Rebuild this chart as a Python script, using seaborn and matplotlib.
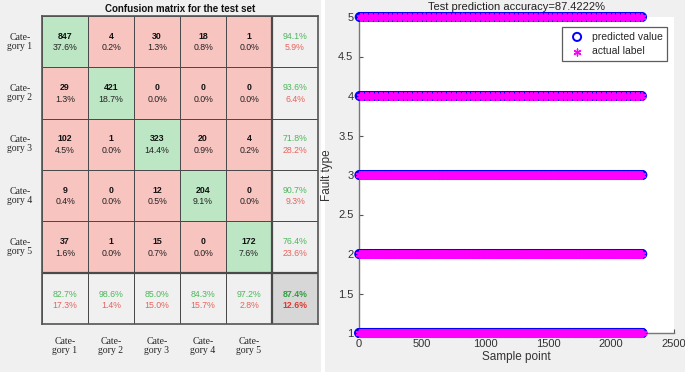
import numpy as np
import pandas as pd
import matplotlib
matplotlib.use("Agg")
import matplotlib.pyplot as plt
from matplotlib.colors import ListedColormap
from matplotlib.patches import Rectangle
import seaborn as sns

# ==============================================================================
# Data
# ==============================================================================
class_names = ["Category 1", "Category 2", "Category 3", "Category 4", "Category 5"]
row_labels = ["Cate-\ngory 1", "Cate-\ngory 2", "Cate-\ngory 3", "Cate-\ngory 4", "Cate-\ngory 5"]
fault_levels = [1, 2, 3, 4, 5]

# rows = actual class, columns = predicted class
counts_cat1 = [847, 4, 30, 18, 1]
counts_cat2 = [29, 421, 0, 0, 0]
counts_cat3 = [102, 1, 323, 20, 4]
counts_cat4 = [9, 0, 12, 204, 0]
counts_cat5 = [37, 1, 15, 0, 172]

x_ticks = [0, 500, 1000, 1500, 2000, 2500]
y_ticks = [1, 1.5, 2, 2.5, 3, 3.5, 4, 4.5, 5]
y_tick_labels = ["1", "1.5", "2", "2.5", "3", "3.5", "4", "4.5", "5"]

conf = np.array([counts_cat1, counts_cat2, counts_cat3, counts_cat4, counts_cat5])
total = conf.sum()
diag = np.diag(conf)
row_acc = diag / conf.sum(axis=1)
col_acc = diag / conf.sum(axis=0)
overall = diag.sum() / total

# test samples rebuilt from the confusion counts, spread over the sample index
samples = []
for i, row in enumerate(conf):
    preds = []
    for j, c in enumerate(row):
        preds += [((k + 0.5) / c, fault_levels[j]) for k in range(c)]
    preds.sort()
    n = len(preds)
    for k, (_, p) in enumerate(preds):
        samples.append(((k + 0.5) / n, i, fault_levels[i], p))
samples.sort()
df = pd.DataFrame({
    "sample": np.arange(1, len(samples) + 1),
    "actual": [s[2] for s in samples],
    "predicted": [s[3] for s in samples],
})

# ==============================================================================
# Figure
# ==============================================================================
sns.set_theme(style="white")
plt.rcParams["font.family"] = ["Liberation Sans", "DejaVu Sans"]

W, H = 685, 372
fig = plt.figure(figsize=(W / 100, H / 100), dpi=100, facecolor="white")
panel_gray = "#f0f0f0"
fig.patches.append(Rectangle((0, 0), 321 / W, 1, transform=fig.transFigure,
                             facecolor=panel_gray, edgecolor="none", zorder=-10))
fig.patches.append(Rectangle((325 / W, 0), 1, 1, transform=fig.transFigure,
                             facecolor=panel_gray, edgecolor="none", zorder=-10))

# ---------------- left: confusion matrix ----------------
ax1 = fig.add_axes([42 / W, 1 - 324 / H, (318 - 42) / W, (324 - 16) / H])
codes = np.full((6, 6), 2)
codes[:5, :5] = 0
np.fill_diagonal(codes[:5, :5], 1)
codes[5, 5] = 3
cell_cmap = ListedColormap(["#f8c4c0", "#bde6c5", "#f0f0f0", "#d7d7d7"])
sns.heatmap(codes, cmap=cell_cmap, vmin=-0.5, vmax=3.5, cbar=False,
            linewidths=0.6, linecolor="#4a4a4a", ax=ax1,
            xticklabels=False, yticklabels=False)
ax1.axhline(5, color="#4a4a4a", lw=1.6)
ax1.axvline(5, color="#4a4a4a", lw=1.6)
for s in ax1.spines.values():
    s.set_visible(True)
    s.set_color("#555555")
    s.set_linewidth(1.2)

green_txt, red_txt = "#4cb85a", "#e8635c"
for i in range(5):
    for j in range(5):
        ax1.text(j + 0.5, i + 0.39, f"{conf[i, j]}", ha="center", va="center",
                 fontsize=6.3, fontweight="bold", color="#111111")
        ax1.text(j + 0.5, i + 0.62, f"{conf[i, j] / total * 100:.1f}%", ha="center",
                 va="center", fontsize=6.3, color="#222222")
    ax1.text(5.5, i + 0.39, f"{row_acc[i] * 100:.1f}%", ha="center", va="center",
             fontsize=6.3, color=green_txt)
    ax1.text(5.5, i + 0.62, f"{(1 - row_acc[i]) * 100:.1f}%", ha="center", va="center",
             fontsize=6.3, color=red_txt)
    ax1.text(i + 0.5, 5.42, f"{col_acc[i] * 100:.1f}%", ha="center", va="center",
             fontsize=6.3, color=green_txt)
    ax1.text(i + 0.5, 5.63, f"{(1 - col_acc[i]) * 100:.1f}%", ha="center", va="center",
             fontsize=6.3, color=red_txt)
    ax1.text(-0.48, i + 0.5, row_labels[i], ha="center", va="center", fontsize=7,
             family=["Liberation Serif"], linespacing=1.0, clip_on=False)
    ax1.text(i + 0.5, 6.42, row_labels[i], ha="center", va="center", fontsize=7,
             family=["Liberation Serif"], linespacing=1.0, clip_on=False)
ax1.text(5.5, 5.42, f"{overall * 100:.1f}%", ha="center", va="center",
         fontsize=6.3, fontweight="bold", color="#2e9e3e")
ax1.text(5.5, 5.63, f"{(1 - overall) * 100:.1f}%", ha="center", va="center",
         fontsize=6.3, fontweight="bold", color="#e0362c")
ax1.set_title("Confusion matrix for the test set", fontsize=7, fontweight="bold",
              pad=3, color="#111111")

# ---------------- right: prediction scatter ----------------
ax2 = fig.add_axes([359 / W, 1 - 333 / H, (674 - 359) / W, (333 - 17) / H])
ax2.set_facecolor("white")
sns.scatterplot(data=df, x="sample", y="predicted", marker="o", s=34,
                facecolor="none", edgecolor="#0000ff", linewidth=1.4,
                label="predicted value", clip_on=False, ax=ax2, zorder=3)
sns.scatterplot(data=df, x="sample", y="actual", marker=(6, 2, 0), s=24,
                color="#ff00ff", linewidth=1.0,
                label="actual label", clip_on=False, ax=ax2, zorder=4)
ax2.set_xlim(0, 2500)
ax2.set_ylim(1, 5)
ax2.set_xticks(x_ticks)
ax2.set_yticks(y_ticks)
ax2.set_yticklabels(y_tick_labels)
ax2.tick_params(direction="in", length=3, width=0.8, color="#555555",
                labelsize=8, labelcolor="#333333", pad=4)
ax2.tick_params(axis="both", which="both", left=True, bottom=True)
for side in ["top", "right"]:
    ax2.spines[side].set_visible(False)
for side in ["left", "bottom"]:
    ax2.spines[side].set_color("#777777")
    ax2.spines[side].set_linewidth(1.0)
ax2.set_xlabel("Sample point", fontsize=8.5, color="#333333", labelpad=2)
ax2.set_ylabel("Fault type", fontsize=8.5, color="#333333", labelpad=4)
ax2.set_title("Test prediction accuracy=87.4222%", fontsize=8, color="#222222", pad=5)
leg = ax2.legend(loc="upper right", bbox_to_anchor=(0.995, 0.985), fontsize=7.5,
                 frameon=True, fancybox=False, edgecolor="#333333",
                 handletextpad=0.4, borderpad=0.45, labelspacing=0.45)
leg.get_frame().set_linewidth(0.9)

fig.savefig("out.png", dpi=100, facecolor=fig.get_facecolor())
